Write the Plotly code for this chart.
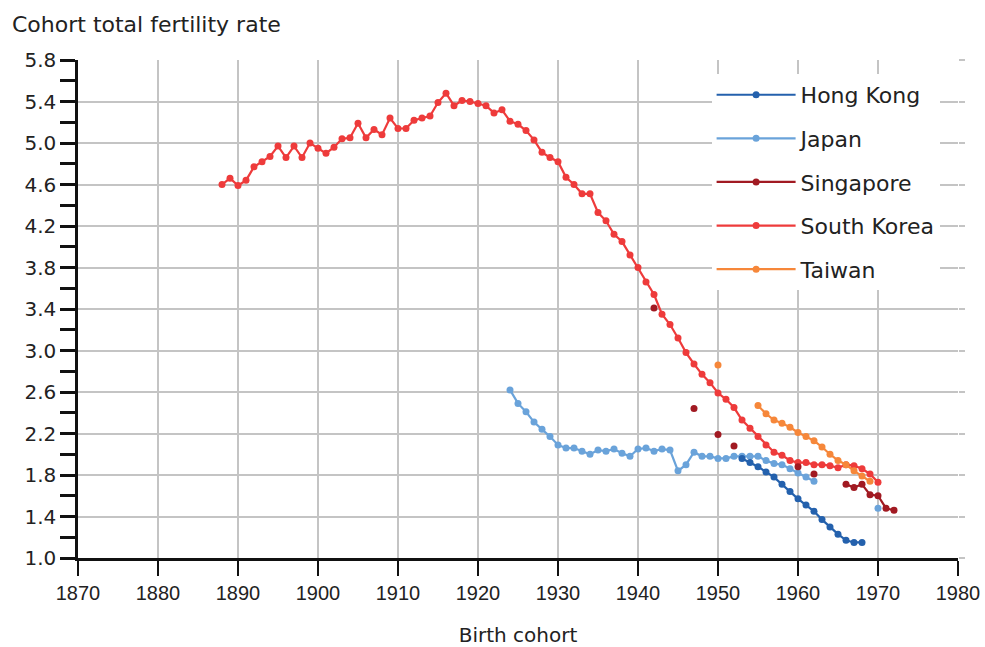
import plotly.graph_objects as go

# Birth cohorts and cohort TFR values (None = no data)
sk_years = list(range(1888, 1971))
sk_tfr = [4.60, 4.66, 4.59, 4.64, 4.77, 4.82, 4.87, 4.97, 4.86, 4.97,
          4.86, 5.00, 4.95, 4.90, 4.96, 5.04, 5.05, 5.19, 5.05, 5.13,
          5.08, 5.24, 5.14, 5.14, 5.22, 5.24, 5.26, 5.39, 5.48, 5.36,
          5.41, 5.40, 5.38, 5.36, 5.29, 5.32, 5.21, 5.18, 5.12, 5.03,
          4.91, 4.86, 4.82, 4.67, 4.60, 4.51, 4.51, 4.33, 4.25, 4.12,
          4.05, 3.92, 3.80, 3.66, 3.54, 3.35, 3.25, 3.12, 2.98, 2.87,
          2.77, 2.69, 2.59, 2.53, 2.45, 2.33, 2.25, 2.17, 2.09, 2.02,
          1.99, 1.94, 1.92, 1.92, 1.90, 1.90, 1.89, 1.87, 1.90, 1.89,
          1.86, 1.81, 1.73]

jp_years = list(range(1924, 1971))
jp_tfr = [2.62, 2.49, 2.41, 2.31, 2.24, 2.17, 2.09, 2.06, 2.06, 2.03,
          2.00, 2.04, 2.03, 2.05, 2.01, 1.98, 2.05, 2.06, 2.03, 2.05,
          2.04, 1.84, 1.90, 2.02, 1.98, 1.98, 1.96, 1.96, 1.98, 1.98,
          1.98, 1.98, 1.94, 1.91, 1.90, 1.86, 1.82, 1.78, 1.74,
          None, None, None, None, None, None, None, 1.48]

hk_years = list(range(1953, 1969))
hk_tfr = [1.96, 1.92, 1.88, 1.83, 1.78, 1.71, 1.64, 1.57, 1.51, 1.45,
          1.37, 1.30, 1.23, 1.17, 1.15, 1.15]

sg_years = [1942, 1943, 1947, 1948, 1950, 1951, 1952, 1953, 1960, 1961, 1962, 1963,
            1966, 1967, 1968, 1969, 1970, 1971, 1972]
sg_tfr = [3.41, None, 2.44, None, 2.19, None, 2.08, None, 1.88, None, 1.81, None,
          1.71, 1.68, 1.71, 1.61, 1.60, 1.48, 1.46]

tw_years = [1950, 1951] + list(range(1955, 1970))
tw_tfr = [2.86, None, 2.47, 2.39, 2.33, 2.30, 2.26, 2.21, 2.17, 2.13,
          2.07, 2.00, 1.94, 1.90, 1.84, 1.79, 1.74]

series = [
    ("Hong Kong", hk_years, hk_tfr, "#2461ad"),
    ("Japan", jp_years, jp_tfr, "#6aa3da"),
    ("Singapore", sg_years, sg_tfr, "#a11a22"),
    ("South Korea", sk_years, sk_tfr, "#ee3b3b"),
    ("Taiwan", tw_years, tw_tfr, "#f6873a"),
]

fig = go.Figure()

# Draw order: Korea first so the others sit on top, legend order kept by legendrank
draw_order = [3, 4, 1, 0, 2]
for i in draw_order:
    name, xs, ys, col = series[i]
    fig.add_trace(go.Scatter(
        x=xs, y=ys, name=name, mode="lines+markers",
        line=dict(color=col, width=2.2),
        marker=dict(color=col, size=7),
        connectgaps=False,
        legendgroup=name, legendrank=i + 1,
    ))

# empty trace so the right-hand tick axis gets drawn
fig.add_trace(go.Scatter(x=[None], y=[None], yaxis="y2", showlegend=False, hoverinfo="skip"))

font_wide = "DejaVu Sans, Verdana, sans-serif"
font_ticks = "Liberation Sans, Arial, Helvetica, sans-serif"

fig.update_layout(
    width=985, height=647,
    margin=dict(l=78, r=27, t=60, b=89),
    paper_bgcolor="white", plot_bgcolor="white",
    font=dict(family=font_wide, size=20, color="#222222"),
    showlegend=True,
    legend=dict(
        x=0.72, y=0.972, xanchor="left", yanchor="top",
        bgcolor="white", borderwidth=0,
        font=dict(family=font_wide, size=22, color="#222222"),
        tracegroupgap=12, itemwidth=79,
    ),
    xaxis=dict(
        range=[1870, 1980], dtick=10, tick0=1870, automargin=False,
        showgrid=True, gridcolor="#c4c4c4", gridwidth=1.5,
        showline=True, linecolor="#111111", linewidth=2.5,
        ticks="outside", ticklen=15, tickwidth=2, tickcolor="#111111",
        tickfont=dict(family=font_ticks, size=20, color="#222222"),
        zeroline=False,
        title=dict(text="Birth cohort", font=dict(family=font_wide, size=20), standoff=28),
    ),
    yaxis=dict(
        range=[1.0, 5.8], dtick=0.4, tick0=1.0, tickformat=".1f", automargin=False,
        showgrid=True, gridcolor="#c4c4c4", gridwidth=1.5,
        showline=True, linecolor="#111111", linewidth=2.5,
        ticks="outside", ticklen=15, tickwidth=2.5, tickcolor="#111111",
        minor=dict(dtick=0.2, ticks="outside", ticklen=15, tickwidth=2.5,
                   tickcolor="#111111", showgrid=False),
        tickfont=dict(family=font_wide, size=20, color="#222222"),
        zeroline=False,
    ),
    yaxis2=dict(
        overlaying="y", side="right", range=[1.0, 5.8], dtick=0.4, tick0=1.0,
        showgrid=False, showticklabels=False, zeroline=False, automargin=False,
        ticks="outside", ticklen=6, tickwidth=1.5, tickcolor="#c4c4c4",
    ),
    annotations=[dict(
        text="Cohort total fertility rate", xref="paper", yref="paper",
        x=-0.077, y=1.042, xanchor="left", yanchor="bottom", showarrow=False,
        font=dict(family=font_wide, size=22, color="#222222"),
    )],
)

fig.write_html("out.html", config={"displayModeBar": False},
               post_script="document.body.style.margin='0';")
